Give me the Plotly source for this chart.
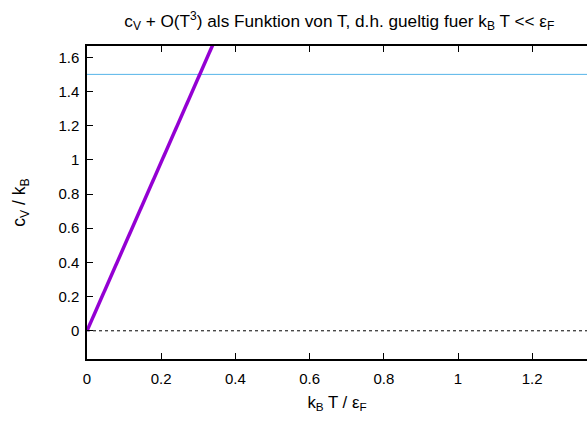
import plotly.graph_objects as go

# data
T_vals = [0.0, 0.35]
cv_vals = [0.0, 1.727]
classical_T = [0.0, 1.4]
classical_cv = [1.5, 1.5]
zero_T = [0.0, 1.4]
zero_cv = [0.0, 0.0]
x_ticks = [0, 0.2, 0.4, 0.6, 0.8, 1, 1.2]
y_ticks = [0, 0.2, 0.4, 0.6, 0.8, 1, 1.2, 1.4, 1.6]

font = "Liberation Sans, Arial, sans-serif"

fig = go.Figure()
fig.add_trace(go.Scatter(x=zero_T, y=zero_cv, mode="lines",
                         line=dict(color="black", width=1, dash="dot"),
                         showlegend=False))
fig.add_trace(go.Scatter(x=classical_T, y=classical_cv, mode="lines",
                         line=dict(color="#56b4e9", width=1),
                         showlegend=False))
fig.add_trace(go.Scatter(x=T_vals, y=cv_vals, mode="lines",
                         line=dict(color="#9400d3", width=3.5),
                         showlegend=False))

fig.update_layout(
    width=587, height=422,
    margin=dict(l=87, r=0, t=46, b=63),
    paper_bgcolor="white", plot_bgcolor="white",
    font=dict(family=font, size=15, color="black"),
    title=dict(text="c<sub>V</sub> + O(T<sup>3</sup>) als Funktion von T, d.h. gueltig fuer k<sub>B</sub> T &lt;&lt; ε<sub>F</sub>",
               x=0.578, xref="container", xanchor="center",
               y=0.965, yref="container", font=dict(size=17.2)),
    xaxis=dict(range=[0, 500 / 371.0], tickvals=x_ticks,
               ticktext=[f"{v:g}" for v in x_ticks],
               ticks="inside", ticklen=6, tickcolor="black",
               ticklabelstandoff=5,
               showline=True, linecolor="black", linewidth=1.5,
               mirror="ticks", showgrid=False, zeroline=False,
               title=dict(text="k<sub>B</sub> T / ε<sub>F</sub>", standoff=10,
                          font=dict(size=16.8))),
    yaxis=dict(range=[-0.165, 1.666], tickvals=y_ticks,
               ticktext=[f"{v:g}" for v in y_ticks],
               ticks="inside", ticklen=6, tickcolor="black",
               ticklabelstandoff=3,
               showline=True, linecolor="black", linewidth=1.5,
               showgrid=False, zeroline=False,
               title=dict(text="c<sub>V</sub> / k<sub>B</sub>", standoff=28,
                          font=dict(size=17.5))),
)

fig.write_html("out.html")
